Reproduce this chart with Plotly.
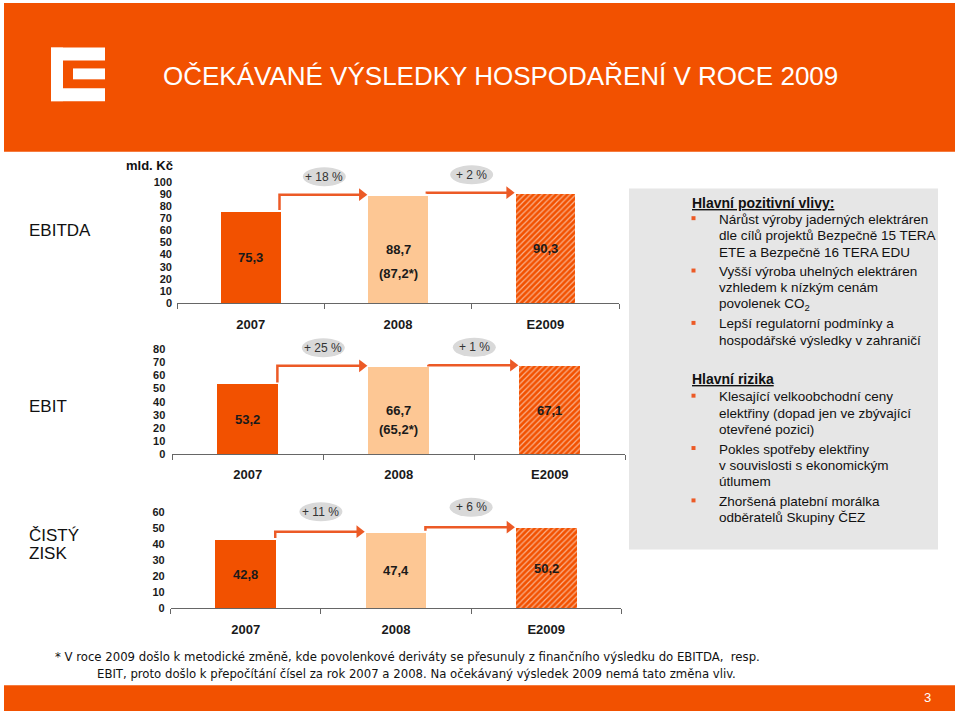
import plotly.graph_objects as go

# ---------------- data ----------------
categories = ["2007", "2008", "E2009"]
ebitda = [75.3, 88.7, 90.3]
ebit = [53.2, 66.7, 67.1]
net_profit = [42.8, 47.4, 50.2]
ebitda_restated = [None, 87.2, None]
ebit_restated = [None, 65.2, None]
net_restated = [None, None, None]
ebitda_growth = ["+ 18 %", "+ 2 %"]
ebit_growth = ["+ 25 %", "+ 1 %"]
net_growth = ["+ 11 %", "+ 6 %"]
ebitda_ticks = [0, 10, 20, 30, 40, 50, 60, 70, 80, 90, 100]
ebit_ticks = [0, 10, 20, 30, 40, 50, 60, 70, 80]
net_ticks = [0, 10, 20, 30, 40, 50, 60]
unit_label = "mld. Kč"
title_text = "OČEKÁVANÉ VÝSLEDKY HOSPODAŘENÍ V ROCE 2009"
page_number = "3"

positive_title = "Hlavní pozitivní vlivy:"
positive_items = [
    ["Nárůst výroby jaderných elektráren", "dle cílů projektů Bezpečně 15 TERA", "ETE a Bezpečně 16 TERA EDU"],
    ["Vyšší výroba uhelných elektráren", "vzhledem k nízkým cenám", "povolenek CO<sub>2</sub>"],
    ["Lepší regulatorní podmínky a", "hospodářské výsledky v zahraničí"],
]
risk_title = "Hlavní rizika"
risk_items = [
    ["Klesající velkoobchodní ceny", "elektřiny (dopad jen ve zbývající", "otevřené pozici)"],
    ["Pokles spotřeby elektřiny", "v souvislosti s ekonomickým", "útlumem"],
    ["Zhoršená platební morálka", "odběratelů Skupiny ČEZ"],
]
footnote_lines = [
    "* V roce 2009 došlo k metodické změně, kde povolenkové deriváty se přesunuly z finančního výsledku do EBITDA,  resp.",
    "EBIT, proto došlo k přepočítání čísel za rok 2007 a 2008. Na očekávaný výsledek 2009 nemá tato změna vliv.",
]

# ---------------- style ----------------
W, H = 959, 721
ORANGE = "#F25100"
PEACH = "#FDC794"
HATCH = "#F98A4C"
ARROW = "#EC5A26"
ELLIPSE = "#D9D9D9"
FONT = "Liberation Sans, Arial, Helvetica, sans-serif"
NARROW = "Liberation Sans Narrow, Arial Narrow, DejaVu Sans Condensed, sans-serif"


def px(x):
    return x / W


def py(y):
    return 1 - y / H


panels = [
    dict(name="EBITDA", labels=["EBITDA"], label_y=[232], values=ebitda, restated=ebitda_restated,
         growth=ebitda_growth, ticks=ebitda_ticks, x0=177, x1=619, zero=305.5, scale=1.22, ymax=120,
         rshift=-24, ystand=4, gshift=18),
    dict(name="EBIT", labels=["EBIT"], label_y=[410], values=ebit, restated=ebit_restated,
         growth=ebit_growth, ticks=ebit_ticks, x0=172.3, x1=625.3, zero=457.7, scale=1.317, ymax=95,
         rshift=-19, ystand=6, gshift=18),
    dict(name="NET", labels=["ČISTÝ", "ZISK"], label_y=[540, 558], values=net_profit, restated=net_restated,
         growth=net_growth, ticks=net_ticks, x0=170.7, x1=621.3, zero=613.3, scale=1.607, ymax=72,
         rshift=-20, ystand=5, gshift=20),
]

fig = go.Figure()
shapes = []
annotations = []
BAR_W = 0.405

for k, p in enumerate(panels):
    sfx = "" if k == 0 else str(k + 1)
    xa, ya = "x" + sfx, "y" + sfx
    catw = (p["x1"] - p["x0"]) / 3.0
    scale = p["scale"]
    vals = p["values"]

    fig.add_trace(go.Bar(
        x=[0, 1, 2], y=vals, width=BAR_W, xaxis=xa, yaxis=ya,
        marker=dict(color=[ORANGE, PEACH, ORANGE], line=dict(width=0),
                    pattern=dict(shape=["", "", "/"], fgcolor=HATCH, fgopacity=0.55,
                                 size=4, solidity=0.3, fillmode="overlay")),
        hoverinfo="skip", showlegend=False,
    ))

    # value labels
    for i, v in enumerate(vals):
        annotations.append(dict(xref=xa, yref=ya, x=i, y=v / 2, text=f"{v:.1f}".replace(".", ","),
                                showarrow=False, font=dict(family=FONT, size=13, color="#1a1a1a", weight="bold")))
        r = p["restated"][i]
        if r is not None:
            annotations.append(dict(xref=xa, yref=ya, x=i, y=v / 2, yshift=p["rshift"],
                                    text="(" + f"{r:.1f}".replace(".", ",") + "*)", showarrow=False,
                                    font=dict(family=FONT, size=13, color="#1a1a1a", weight="bold")))

    # growth arrows
    hw = BAR_W / 2
    tri = 6.35 / catw
    for i in range(2):
        xs = i + hw - 1.0 / catw
        xe = i + 1 - hw
        ys = vals[i] + 2.0 / scale
        yel = vals[i + 1] + 1.0 / scale
        fig.add_trace(go.Scatter(x=[xs, xs, xe - tri], y=[ys, yel, yel], mode="lines",
                                 line=dict(color=ARROW, width=2.5), xaxis=xa, yaxis=ya,
                                 hoverinfo="skip", showlegend=False))
        fig.add_trace(go.Scatter(x=[xe - tri], y=[yel], mode="markers",
                                 marker=dict(symbol="triangle-right", size=11, color=ARROW, line=dict(width=0)),
                                 xaxis=xa, yaxis=ya, hoverinfo="skip", showlegend=False))
        g = p["gshift"]
        shapes.append(dict(type="circle", xref=xa, yref=ya, xsizemode="pixel", ysizemode="pixel",
                           xanchor=i + 0.5, yanchor=yel, x0=-21.5, x1=21.5, y0=g - 9.5, y1=g + 9.5,
                           fillcolor=ELLIPSE, line=dict(width=0), layer="below"))
        annotations.append(dict(xref=xa, yref=ya, x=i + 0.5, y=yel, yshift=g, text=p["growth"][i],
                                showarrow=False, font=dict(family=FONT, size=12, color="#333333")))

    # axes
    xdom = [px(p["x0"]), px(p["x1"])]
    ydom = [py(p["zero"]), py(p["zero"] - p["ymax"] * scale)]
    fig.update_layout(**{
        "xaxis" + sfx: dict(domain=xdom, range=[-0.5, 2.5], anchor=ya, tickmode="array",
                            tickvals=[0, 1, 2], ticktext=categories, ticks="", showgrid=False,
                            zeroline=False, showline=True, linecolor="#666666", linewidth=1,
                            ticklabelstandoff=9,
                            tickfont=dict(family=FONT, size=13, color="#1a1a1a", weight="bold"),
                            minor=dict(tickmode="array", tickvals=[-0.5, 0.5, 1.5, 2.5], ticks="outside",
                                       ticklen=5, tickcolor="#666666", tickwidth=1),
                            fixedrange=True),
        "yaxis" + sfx: dict(domain=ydom, range=[0, p["ymax"]], anchor=xa, tickmode="array",
                            tickvals=p["ticks"], ticks="", showgrid=False, zeroline=False, showline=False,
                            ticklabelstandoff=p["ystand"],
                            tickfont=dict(family=FONT, size=11, color="#1a1a1a", weight="bold"),
                            fixedrange=True),
    })

    for lab, ly in zip(p["labels"], p["label_y"]):
        annotations.append(dict(xref="paper", yref="paper", x=px(27), y=py(ly), xanchor="left",
                                yanchor="middle", text=lab, showarrow=False,
                                font=dict(family=FONT, size=17, color="#111111")))

annotations.append(dict(xref="paper", yref="paper", x=px(124), y=py(167), xanchor="left", yanchor="middle",
                        text=unit_label, showarrow=False,
                        font=dict(family=FONT, size=13, color="#111111", weight="bold")))

# header
shapes.append(dict(type="rect", xref="paper", yref="paper", x0=px(4), x1=px(955), y0=py(153), y1=py(3),
                   fillcolor=ORANGE, line=dict(width=0), layer="below"))
for (a, b, c, d) in [(51, 48, 63, 102), (51, 48, 105, 61), (73, 69, 105, 80), (51, 89, 105, 102)]:
    shapes.append(dict(type="rect", xref="paper", yref="paper", x0=px(a), x1=px(c), y0=py(d), y1=py(b),
                       fillcolor="white", line=dict(width=0), layer="below"))
annotations.append(dict(xref="paper", yref="paper", x=px(161), y=py(77), xanchor="left", yanchor="middle",
                        text=title_text, showarrow=False, font=dict(family=FONT, size=26, color="white")))

# footer band
shapes.append(dict(type="rect", xref="paper", yref="paper", x0=px(4), x1=px(955), y0=py(717), y1=py(691),
                   fillcolor=ORANGE, line=dict(width=0), layer="below"))
annotations.append(dict(xref="paper", yref="paper", x=px(927), y=py(703), xanchor="center", yanchor="middle",
                        text=page_number, showarrow=False, font=dict(family=FONT, size=13, color="white")))

# footnote
for txt, fx, fy in zip(footnote_lines, [53, 95], [662, 679]):
    annotations.append(dict(xref="paper", yref="paper", x=px(fx), y=py(fy), xanchor="left", yanchor="middle",
                            text=txt, showarrow=False, font=dict(family=NARROW, size=13, color="#111111")))

# text box
shapes.append(dict(type="rect", xref="paper", yref="paper", x0=px(629), x1=px(938), y0=py(554), y1=py(190),
                   fillcolor="#E6E6E6", line=dict(width=0), layer="below"))


def add_block(title, items, title_y, first_y):
    annotations.append(dict(xref="paper", yref="paper", x=px(690), y=py(title_y), xanchor="left",
                            yanchor="middle", text="<u>" + title + "</u>", showarrow=False,
                            font=dict(family=FONT, size=14, color="#111111", weight="bold")))
    line_idx = 0
    for b, item in enumerate(items):
        for j, line in enumerate(item):
            yy = first_y + 16.6 * line_idx + 3 * b
            if j == 0:
                shapes.append(dict(type="rect", xref="paper", yref="paper", x0=px(691.5), x1=px(695.5),
                                   y0=py(yy + 1), y1=py(yy - 3), fillcolor=ARROW, line=dict(width=0)))
            annotations.append(dict(xref="paper", yref="paper", x=px(717), y=py(yy), xanchor="left",
                                    yanchor="middle", text=line, showarrow=False,
                                    font=dict(family=FONT, size=13.5, color="#111111")))
            line_idx += 1


add_block(positive_title, positive_items, 204.3, 221)
add_block(risk_title, risk_items, 381.7, 400)

fig.update_layout(width=W, height=H, margin=dict(l=0, r=0, t=0, b=0), paper_bgcolor="white",
                  plot_bgcolor="rgba(0,0,0,0)", showlegend=False, bargap=0,
                  shapes=shapes, annotations=annotations)

fig.write_html("out.html", config={"displayModeBar": False, "staticPlot": True},
               post_script="document.body.style.margin='0px';")
